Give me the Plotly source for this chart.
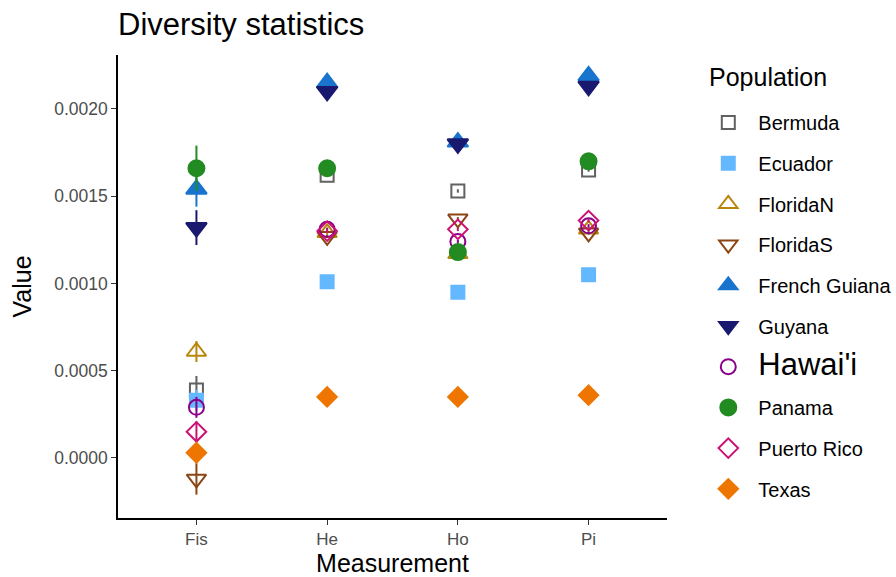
import plotly.graph_objects as go

measures = ["Fis", "He", "Ho", "Pi"]
populations = ["Bermuda", "Ecuador", "FloridaN", "FloridaS", "French Guiana",
               "Guyana", "Hawai'i", "Panama", "Puerto Rico", "Texas"]

bermuda = [0.00039, 0.00162, 0.00153, 0.00165]
ecuador = [0.00033, 0.00101, 0.00095, 0.00105]
floridan = [0.00061, 0.00129, 0.00117, 0.00131]
floridas = [-0.00012, 0.00127, 0.00137, 0.00129]
french_guiana = [0.00154, 0.00215, 0.00181, 0.00219]
guyana = [0.00132, 0.00210, 0.00180, 0.00213]
hawaii = [0.00029, 0.00131, 0.00124, 0.00133]
panama = [0.00166, 0.00166, 0.00118, 0.00170]
puerto_rico = [0.00015, 0.00130, 0.00131, 0.00136]
texas = [0.00003, 0.00035, 0.00035, 0.00036]

bermuda_err = [0.00008, 0.00001, 0.00001, 0.00001]
ecuador_err = [0.00006, 0.00001, 0.00001, 0.00001]
floridan_err = [0.00006, 0.00001, 0.00001, 0.00001]
floridas_err = [0.00009, 0.00001, 0.00001, 0.00001]
french_guiana_err = [0.00010, 0.00001, 0.00001, 0.00001]
guyana_err = [0.00010, 0.00001, 0.00001, 0.00001]
hawaii_err = [0.00006, 0.00001, 0.00001, 0.00001]
panama_err = [0.00013, 0.00001, 0.00001, 0.00001]
puerto_rico_err = [0.00006, 0.00001, 0.00001, 0.00001]
texas_err = [0.00006, 0.00001, 0.00001, 0.00001]

values = [bermuda, ecuador, floridan, floridas, french_guiana, guyana, hawaii, panama, puerto_rico, texas]
errors = [bermuda_err, ecuador_err, floridan_err, floridas_err, french_guiana_err,
          guyana_err, hawaii_err, panama_err, puerto_rico_err, texas_err]
colors = ["#616161", "#63b8ff", "#b8860b", "#8b4513", "#1874cd",
          "#191970", "#8b008b", "#228b22", "#cd1076", "#ee7600"]
symbols = ["square-open", "square", "triangle-up-open", "triangle-down-open", "triangle-up",
           "triangle-down", "circle-open", "circle", "diamond-open", "diamond"]
sizes = [13, 13, 17, 17, 18, 18, 15, 16, 15, 15]

fig = go.Figure()
for i, pop in enumerate(populations):
    name = pop if pop != "Hawai'i" else "<span style='font-size:31px'>Hawai'i</span>"
    fig.add_trace(go.Scatter(
        x=measures, y=values[i], mode="markers", name=name,
        legendgroup=pop,
        marker=dict(symbol=symbols[i], color=colors[i], size=sizes[i],
                    line=dict(width=2, color=colors[i])),
        error_y=dict(type="data", array=errors[i], symmetric=True,
                     color=colors[i], thickness=2, width=0),
    ))

fig.add_annotation(text="Population", xref="paper", yref="paper",
                   x=(707 - 118) / 549, xanchor="left",
                   y=(518 - 77) / 463, yanchor="middle",
                   showarrow=False, font=dict(size=25, color="black"))

fig.update_layout(
    width=896, height=577,
    margin=dict(l=118, r=229, t=55, b=59, autoexpand=False),
    paper_bgcolor="white", plot_bgcolor="white",
    font=dict(family="Liberation Sans, Arial, sans-serif", color="black"),
    title=dict(text="Diversity statistics", x=118/896, xanchor="left",
               y=1 - 24/577, yanchor="middle", font=dict(size=31, color="black")),
    xaxis=dict(range=[-0.6, 3.6], showgrid=False, zeroline=False,
               showline=True, linecolor="black", linewidth=1.5,
               ticks="outside", ticklen=5, tickcolor="#333333",
               ticklabelstandoff=0,
               tickfont=dict(size=17, color="#4d4d4d"),
               title=dict(text="Measurement", font=dict(size=25), standoff=10)),
    yaxis=dict(range=[-0.000344, 0.002309], showgrid=False, zeroline=False,
               showline=True, linecolor="black", linewidth=1.5,
               ticks="outside", ticklen=5, tickcolor="#333333",
               tickvals=[0, 0.0005, 0.001, 0.0015, 0.002],
               ticktext=["0.0000", "0.0005", "0.0010", "0.0015", "0.0020"],
               tickfont=dict(size=17.5, color="#4d4d4d"),
               title=dict(text="Value", font=dict(size=25), standoff=15)),
    legend=dict(x=1.057, xanchor="left", y=(518 - 103) / 463, yanchor="top",
                font=dict(size=20), tracegroupgap=11.7, itemwidth=50,
                maxheight=570),
    showlegend=True,
)

fig.write_html("out.html")
